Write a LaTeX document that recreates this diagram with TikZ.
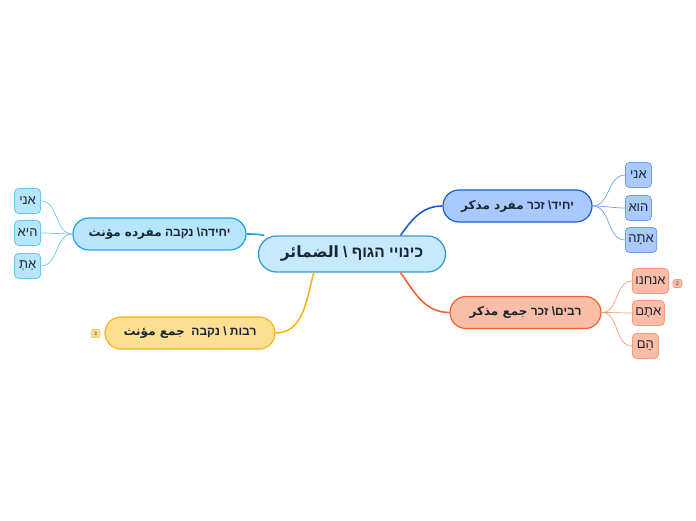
\documentclass[tikz,border=0pt]{standalone}
\usepackage{fontspec}
\setmainfont{Liberation Sans}
\newfontfamily\hebfont[Script=Hebrew]{Liberation Sans}
\newfontfamily\arabfont[Script=Arabic]{DejaVu Sans}
\TeXXeTstate=1

\definecolor{textdark}{HTML}{1A2630}
\definecolor{centerfill}{HTML}{C6EAFB}
\definecolor{centerline}{HTML}{3C9AD6}
\definecolor{bonefill}{HTML}{A9C9FF}
\definecolor{boneline}{HTML}{1C5ED6}
\definecolor{boneleaf}{HTML}{6A9FF0}
\definecolor{btwofill}{HTML}{F9BDA8}
\definecolor{btwoline}{HTML}{F2622E}
\definecolor{btwoleaf}{HTML}{F59A7A}
\definecolor{bthreefill}{HTML}{B7E5FB}
\definecolor{bthreeline}{HTML}{1EA4E3}
\definecolor{bthreeleaf}{HTML}{6CC6F0}
\definecolor{bfourfill}{HTML}{FDDF92}
\definecolor{bfourline}{HTML}{F7B51C}
\definecolor{bfourleaf}{HTML}{F5CC5A}

\tikzset{
  central/.style={draw=centerline, fill=centerfill, line width=1.3pt, rounded corners=18pt,
    minimum width=187pt, minimum height=36pt, inner sep=0pt, text=textdark,
    font=\hebfont\bfseries\fontsize{15.5}{18}\selectfont},
  branch/.style={line width=1.2pt, rounded corners=16pt, minimum height=32pt, inner sep=0pt,
    text=textdark, font=\hebfont\bfseries\fontsize{12}{14}\selectfont},
  leaf/.style={line width=0.8pt, rounded corners=4pt, minimum height=25pt, minimum width=26pt,
    inner xsep=3pt, inner ysep=0pt, text=textdark, font=\hebfont\fontsize{13}{15}\selectfont},
  badge/.style={line width=0.6pt, rounded corners=2pt, minimum width=9pt, minimum height=8pt,
    inner sep=0pt, text=textdark, font=\fontsize{5}{6}\selectfont},
  conn/.style={line width=1.6pt},
  twig/.style={line width=0.7pt},
}

\begin{document}
\begin{tikzpicture}

    % Canvas of the mind map
    \useasboundingbox (0,0) rectangle (696pt,520pt);

    \begin{scope}[x=1pt,y=1pt]

    % Central topic
    \node[central] (c) at (352,266) {\beginR כינויי הגוף \textbackslash{} {\arabfont الضمائر}\endR};

    % Branches
    \node[branch, fill=bonefill, draw=boneline, minimum width=149pt] (bone) at (517.5,314)
        {\beginR יחיד\textbackslash{} זכר {\arabfont مفرد مذكر}\endR};
    \node[branch, fill=btwofill, draw=btwoline, minimum width=151pt] (btwo) at (525.5,207.5)
        {\beginR רבים\textbackslash{} זכר {\arabfont جمع مذكر}\endR};
    \node[branch, fill=bthreefill, draw=bthreeline, minimum width=173pt] (bthree) at (159.5,286)
        {\beginR יחידה\textbackslash{} נקבה {\arabfont مفرده مؤنث}\endR};
    \node[branch, fill=bfourfill, draw=bfourline, minimum width=170pt] (bfour) at (190,187)
        {\beginR רבות \textbackslash{} נקבה \ {\arabfont جمع مؤنث}\endR};

    % Connectors from the central topic
    \draw[conn, draw=boneline] (c.21) to[out=55,in=180] (bone.west);
    \draw[conn, draw=btwoline] (c.-21) to[out=-55,in=180] (btwo.west);
    \draw[conn, draw=bthreeline] (c.168) to[out=170,in=0] (bthree.east);
    \draw[conn, draw=bfourline] (c.206) to[out=-105,in=0] (bfour.east);

    % Leaves of the first branch
    \foreach \name/\y/\txt in {lone/345/אני, ltwo/312/הוא, lthree/280/אתָה} {
        \node[leaf, fill=bonefill, draw=boneleaf, anchor=west] (\name) at (625,\y) {\txt};
        \draw[twig, draw=boneleaf] (bone.east) to[out=0,in=180] (\name.west);
    }

    % Leaves of the second branch
    \foreach \name/\y/\txt in {mone/239/אנחנו, mtwo/207/אתֶם, mthree/174/הֵם} {
        \node[leaf, fill=btwofill, draw=btwoleaf, anchor=west] (\name) at (632,\y) {\txt};
        \draw[twig, draw=btwoleaf] (btwo.east) to[out=0,in=180] (\name.west);
    }

    % Leaves of the third branch
    \foreach \name/\y/\txt in {none/319/אני, ntwo/287/היא, nthree/254/אַתְ} {
        \node[leaf, fill=bthreefill, draw=bthreeleaf, anchor=east] (\name) at (41,\y) {\txt};
        \draw[twig, draw=bthreeleaf] (bthree.west) to[out=180,in=0] (\name.east);
    }

    % Small count badges
    \node[badge, fill=btwofill, draw=btwoleaf] (ctwo) at (677.5,236.5) {2};
    \node[badge, fill=bfourfill, draw=bfourleaf] (cthree) at (95.5,186.5) {3};

    \end{scope}

\end{tikzpicture}
\end{document}
